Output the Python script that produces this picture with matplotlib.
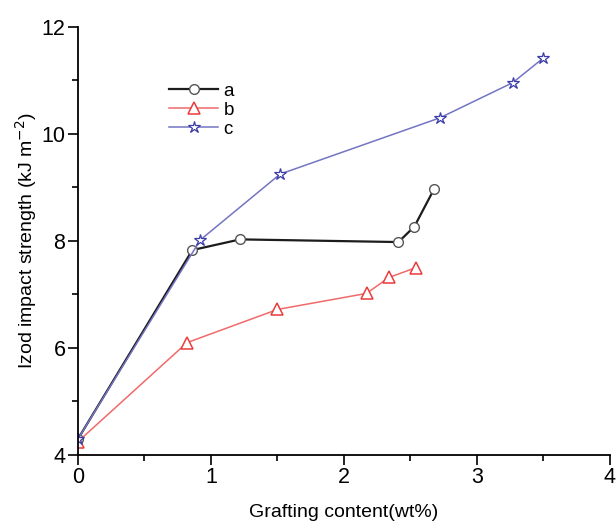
import matplotlib
matplotlib.use('Agg')
import matplotlib.pyplot as plt
from matplotlib.ticker import MultipleLocator

plt.rcParams['font.family'] = ['Liberation Sans', 'DejaVu Sans']

# data
a_x = [0, 0.86, 1.22, 2.41, 2.53, 2.68]
a_y = [4.3, 7.83, 8.03, 7.98, 8.27, 8.98]

b_x = [0, 0.82, 1.50, 2.17, 2.34, 2.54]
b_y = [4.25, 6.10, 6.72, 7.02, 7.32, 7.50]

c_x = [0, 0.92, 1.52, 2.72, 3.27, 3.50]
c_y = [4.3, 8.02, 9.25, 10.30, 10.96, 11.42]

labels = ['a', 'b', 'c']

fig = plt.figure(figsize=(6.16, 5.24), dpi=100)
ax = fig.add_axes([0.1266, 0.1317, 0.8634, 0.8168])

# a - black circles
ax.plot(a_x, a_y, '-o', color='#1c1c1c', lw=1.6, ms=7,
        mfc='white', mec='#555555', mew=1.0, label=labels[0])
# b - red triangles
ax.plot(b_x, b_y, '-^', color='#f06a6a', lw=1.1, ms=8,
        mfc='white', mec='#e83c3c', mew=1.1, label=labels[1])
# c - blue stars
ax.plot(c_x, c_y, '-*', color='#7474c4', lw=1.1, ms=9,
        mfc='white', mec='#3c3ca8', mew=0.9, label=labels[2])

ax.set_xlim(0, 4)
ax.set_ylim(4, 12)
ax.xaxis.set_major_locator(MultipleLocator(1))
ax.xaxis.set_minor_locator(MultipleLocator(0.5))
ax.yaxis.set_major_locator(MultipleLocator(2))
ax.yaxis.set_minor_locator(MultipleLocator(1))

ax.spines['top'].set_visible(False)
ax.spines['right'].set_visible(False)
ax.spines['left'].set_linewidth(1.3)
ax.spines['bottom'].set_linewidth(1.3)

ax.tick_params(which='major', direction='out', length=7, width=1.2, labelsize=15.5, pad=2)
ax.tick_params(which='minor', direction='out', length=4, width=1.2)

ax.set_xlabel('Grafting content(wt%)', fontsize=14, labelpad=11)
ax.set_ylabel('Izod impact strength (kJ m$^{-2}$)', fontsize=14, labelpad=2)

ax.legend(loc='upper left', bbox_to_anchor=(0.14, 0.91), frameon=False,
          fontsize=13.5, handlelength=2.6, handletextpad=0.3, labelspacing=0.1)

fig.savefig('out.png', dpi=100)
